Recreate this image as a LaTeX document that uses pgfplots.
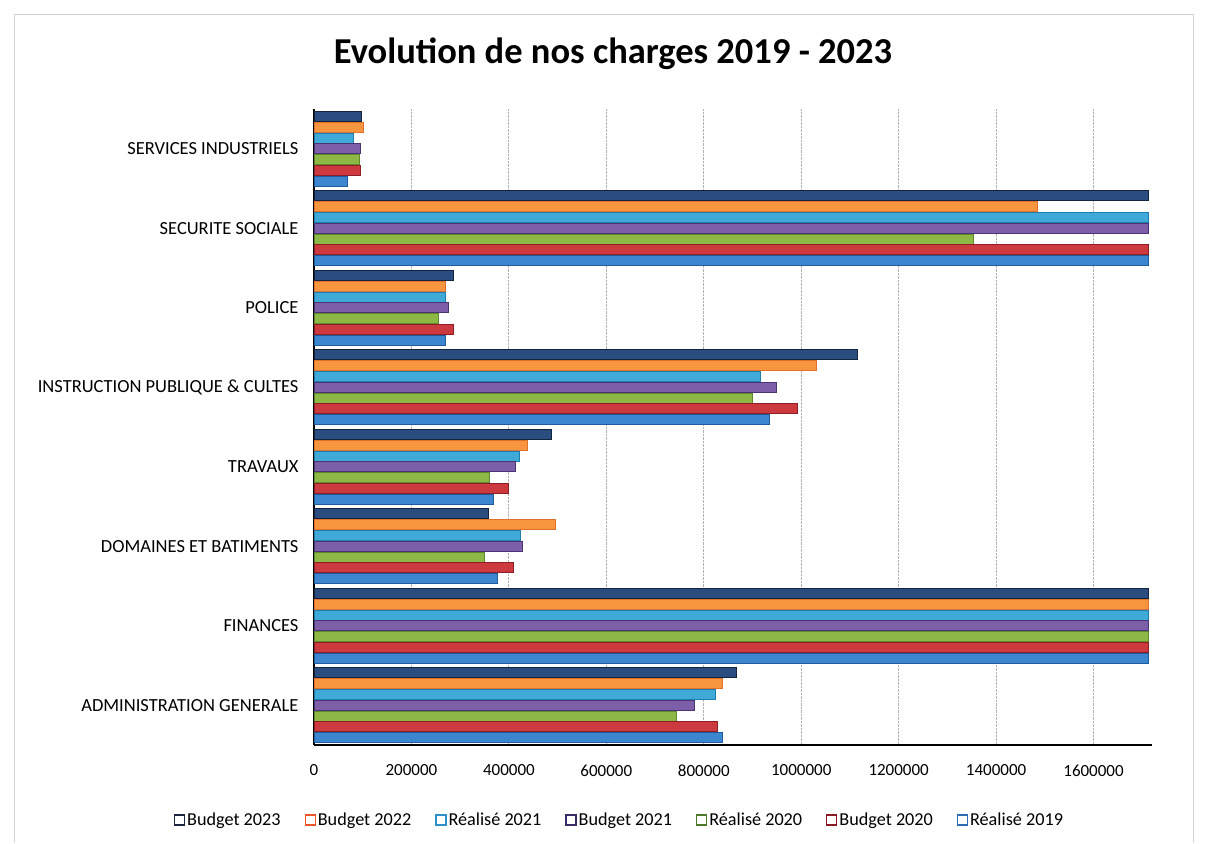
\documentclass[border=0pt]{standalone}
\usepackage{pgfplots}
\pgfplotsset{compat=1.18}
\usepackage{pgfplotstable}
\usepackage{fontspec}
\setmainfont{Carlito}

\definecolor{fB23}{HTML}{2B4C7E}\definecolor{dB23}{HTML}{13243F}\definecolor{lB23}{HTML}{1A2540}
\definecolor{fB22}{HTML}{F7963E}\definecolor{dB22}{HTML}{E0702A}\definecolor{lB22}{HTML}{EE5528}
\definecolor{fR21}{HTML}{3FAAD8}\definecolor{dR21}{HTML}{1E7FAE}\definecolor{lR21}{HTML}{2C8FCB}
\definecolor{fB21}{HTML}{7D5FA9}\definecolor{dB21}{HTML}{4A3475}\definecolor{lB21}{HTML}{3A2A6A}
\definecolor{fR20}{HTML}{8DB845}\definecolor{dR20}{HTML}{5E8A2B}\definecolor{lR20}{HTML}{4D7A2A}
\definecolor{fB20}{HTML}{CC3A3F}\definecolor{dB20}{HTML}{8E1E25}\definecolor{lB20}{HTML}{8B1A22}
\definecolor{fR19}{HTML}{3C85CF}\definecolor{dR19}{HTML}{1F5C9E}\definecolor{lR19}{HTML}{2F6DB5}

\pgfplotstableread{
y b23 b22 r21 b21 r20 b20 r19
0 866000 838000 823000 780000 743000 827000 839000
1 1713000 1713000 1713000 1713000 1713000 1713000 1713000
2 357000 495000 423000 428000 350000 409000 376000
3 487000 438000 421000 414000 361000 400000 368000
4 1116000 1032000 916000 950000 899000 993000 934000
5 286000 270000 270000 276000 256000 287000 270000
6 1713000 1484000 1713000 1713000 1354000 1713000 1713000
7 98000 101000 80000 96000 93000 95000 69000
}\data

\begin{document}
\begin{tikzpicture}
\useasboundingbox (0,0) rectangle (1206pt,843pt);
\draw[gray!35, line width=0.8pt] (14pt,0pt) -- (14pt,829pt) -- (1193pt,829pt) -- (1193pt,0pt);
\node[font=\fontsize{36.5}{42}\selectfont\bfseries] at (613pt,789pt) {Evolution de nos charges 2019 - 2023};
\begin{axis}[
  at={(314pt,98pt)}, anchor=south west,
  scale only axis, width=838pt, height=636pt,
  xmin=0, xmax=1720000, ymin=-0.5, ymax=7.5,
  axis lines*=left,
  x axis line style={black, line width=1.2pt},
  y axis line style={black, line width=2.2pt},
  xtick={0,200000,400000,600000,800000,1000000,1200000,1400000,1600000},
  xticklabels={0,200000,400000,600000,800000,1000000,1200000,1400000,1600000},
  scaled x ticks=false,
  x tick style={draw=none},
  xticklabel style={font=\fontsize{17}{20}\selectfont, yshift=-16pt},
  xmajorgrids,
  major grid style={gray!60, densely dotted, line width=0.9pt},
  ytick={0,...,7},
  yticklabels={ADMINISTRATION GENERALE, FINANCES, DOMAINES ET BATIMENTS, TRAVAUX, INSTRUCTION PUBLIQUE \& CULTES, POLICE, SECURITE SOCIALE, SERVICES INDUSTRIELS},
  y tick style={draw=none},
  yticklabel style={font=\fontsize{18.5}{21}\selectfont, xshift=-12pt},
  extra y ticks={-0.5,0.5,1.5,2.5,3.5,4.5,5.5,6.5,7.5},
  extra y tick labels={},
  extra y tick style={grid=none, tick align=outside, major tick length=5pt, tick style={draw=black, line width=1.5pt}},
  legend style={at={(0.3645,-0.118)}, anchor=center, draw=none, fill=none,
    font=\fontsize{18.2}{21}\selectfont,
    /tikz/every even column/.append style={column sep=22pt}},
  legend columns=-1,
  legend cell align=left,
]
\addplot[xbar, bar width=10pt, bar shift=32.4pt, fill=fB23, draw=dB23, line width=0.8pt,
  legend image code/.code={\draw[draw=lB23,fill=white,line width=1.2pt] (0pt,-5pt) rectangle (10pt,5pt);}]
  table[x=b23,y=y]{\data};
\addlegendentry{Budget 2023}
\addplot[xbar, bar width=10pt, bar shift=21.6pt, fill=fB22, draw=dB22, line width=0.8pt,
  legend image code/.code={\draw[draw=lB22,fill=white,line width=1.2pt] (0pt,-5pt) rectangle (10pt,5pt);}]
  table[x=b22,y=y]{\data};
\addlegendentry{Budget 2022}
\addplot[xbar, bar width=10pt, bar shift=10.8pt, fill=fR21, draw=dR21, line width=0.8pt,
  legend image code/.code={\draw[draw=lR21,fill=white,line width=1.2pt] (0pt,-5pt) rectangle (10pt,5pt);}]
  table[x=r21,y=y]{\data};
\addlegendentry{Réalisé 2021}
\addplot[xbar, bar width=10pt, bar shift=0pt, fill=fB21, draw=dB21, line width=0.8pt,
  legend image code/.code={\draw[draw=lB21,fill=white,line width=1.2pt] (0pt,-5pt) rectangle (10pt,5pt);}]
  table[x=b21,y=y]{\data};
\addlegendentry{Budget 2021}
\addplot[xbar, bar width=10pt, bar shift=-10.8pt, fill=fR20, draw=dR20, line width=0.8pt,
  legend image code/.code={\draw[draw=lR20,fill=white,line width=1.2pt] (0pt,-5pt) rectangle (10pt,5pt);}]
  table[x=r20,y=y]{\data};
\addlegendentry{Réalisé 2020}
\addplot[xbar, bar width=10pt, bar shift=-21.6pt, fill=fB20, draw=dB20, line width=0.8pt,
  legend image code/.code={\draw[draw=lB20,fill=white,line width=1.2pt] (0pt,-5pt) rectangle (10pt,5pt);}]
  table[x=b20,y=y]{\data};
\addlegendentry{Budget 2020}
\addplot[xbar, bar width=10pt, bar shift=-32.4pt, fill=fR19, draw=dR19, line width=0.8pt,
  legend image code/.code={\draw[draw=lR19,fill=white,line width=1.2pt] (0pt,-5pt) rectangle (10pt,5pt);}]
  table[x=r19,y=y]{\data};
\addlegendentry{Réalisé 2019}
\end{axis}
\end{tikzpicture}
\end{document}
